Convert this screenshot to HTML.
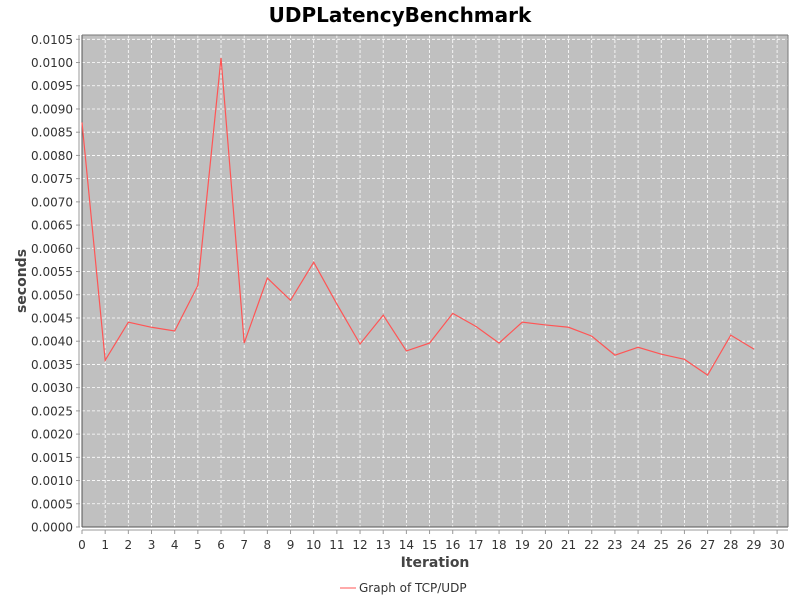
<!DOCTYPE html>
<html><head><meta charset="utf-8"><style>
body{margin:0;background:#fff;}
svg{display:block;font-family:"DejaVu Sans","Liberation Sans",sans-serif;}
</style></head><body>
<svg id="chart" width="800" height="600" viewBox="0 0 800 600" xmlns="http://www.w3.org/2000/svg">
<rect width="800" height="600" fill="#fff"/>
<text x="400" y="22" text-anchor="middle" font-size="20" font-weight="bold" fill="#000">UDPLatencyBenchmark</text>
<rect x="82" y="35" width="706" height="492" fill="#c0c0c0"/>
<g id="grid"></g>
<g id="yaxis"></g>
<g id="xaxis"></g>
<text transform="translate(26,281) rotate(-90)" text-anchor="middle" font-size="14" font-weight="bold" fill="#444">seconds</text>
<text x="435" y="567" text-anchor="middle" font-size="14" font-weight="bold" fill="#444">Iteration</text>
<g>
<line x1="340" y1="588" x2="356" y2="588" stroke="#ff5555" stroke-width="1"/>
<text x="359" y="592" font-size="12" fill="#333">Graph of TCP/UDP</text>
</g>
<g id="series"></g>
</svg>
<script>
const iterations=[0,1,2,3,4,5,6,7,8,9,10,11,12,13,14,15,16,17,18,19,20,21,22,23,24,25,26,27,28,29];
const seconds=[0.00871,0.00359,0.00441,0.0043,0.00422,0.0052,0.0101,0.00396,0.00536,0.00488,0.0057,0.0048,0.00394,0.00456,0.00379,0.00396,0.0046,0.00432,0.00396,0.00441,0.00435,0.0043,0.00411,0.0037,0.00387,0.00372,0.00361,0.00327,0.00413,0.00383];
const yTicks=[0,0.0005,0.001,0.0015,0.002,0.0025,0.003,0.0035,0.004,0.0045,0.005,0.0055,0.006,0.0065,0.007,0.0075,0.008,0.0085,0.009,0.0095,0.01,0.0105];
const xTicks=[0,1,2,3,4,5,6,7,8,9,10,11,12,13,14,15,16,17,18,19,20,21,22,23,24,25,26,27,28,29,30];
const NS="http://www.w3.org/2000/svg";
const X0=82,XU=23.17,Y0=527,YTOP=39.3;
function xs(v){return X0+v*XU;}
function ys(v){return Y0-v/0.0105*(Y0-YTOP);}
function mk(t,a,p){const e=document.createElementNS(NS,t);for(const k in a)e.setAttribute(k,a[k]);p.appendChild(e);return e;}
const grid=document.getElementById('grid'),ya=document.getElementById('yaxis'),xa=document.getElementById('xaxis'),ser=document.getElementById('series');
yTicks.forEach(v=>{const y=ys(v);
 if(v>0){const g=mk('line',{x1:82,x2:788,y1:y,y2:y,stroke:'#fff','stroke-dasharray':'3,2','stroke-width':0.8},grid);
 
 }
 mk('line',{x1:76,x2:80,y1:y,y2:y,stroke:'#999'},ya);
 const t=mk('text',{x:73,y:y+4.5,'text-anchor':'end','font-size':12,fill:'#333'},ya);t.textContent=v.toFixed(4);
 
 });
mk('line',{x1:79,x2:79,y1:35,y2:527,stroke:'#999'},ya);
xTicks.forEach(v=>{const x=xs(v);
 if(v>0){const g=mk('line',{x1:x,x2:x,y1:35,y2:527,stroke:'#fff','stroke-dasharray':'3,2','stroke-width':0.8},grid);
 
 }
 mk('line',{x1:x,x2:x,y1:530,y2:534,stroke:'#999'},xa);
 const t=mk('text',{x:x,y:549,'text-anchor':'middle','font-size':12,fill:'#333'},xa);t.textContent=v;
 
 });
mk('line',{x1:82,x2:788,y1:530,y2:530,stroke:'#999'},xa);
mk('line',{x1:82,x2:82,y1:35,y2:527,stroke:'#555'},xa);
mk('line',{x1:82,x2:788,y1:527,y2:527,stroke:'#555'},xa);
mk('line',{x1:82,x2:788,y1:35,y2:35,stroke:'#777'},xa);
mk('line',{x1:788,x2:788,y1:35,y2:527,stroke:'#777'},xa);
const pts=iterations.map((it,i)=>xs(it)+','+ys(seconds[i])).join(' ');
const pl=mk('polyline',{points:pts,fill:'none',stroke:'#ff5555','stroke-width':1.2},ser);


</script>
</body></html>
